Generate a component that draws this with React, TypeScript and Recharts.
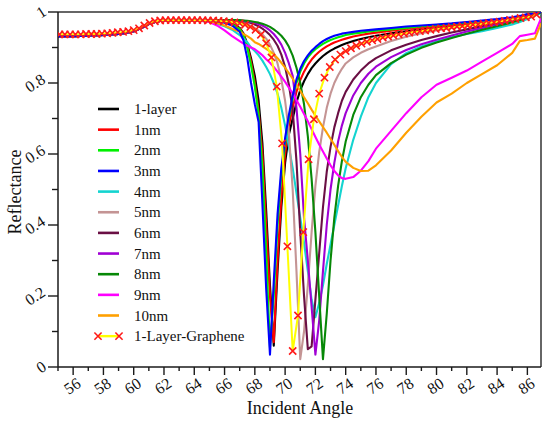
import { LineChart, Line, XAxis, YAxis, ReferenceLine } from "recharts";

// low-angle plateau, same for every film curve
const ANG_BASE = [55, 56, 57, 58, 59, 59.5, 60, 60.5, 61, 61.5, 62, 63, 64];
const R_BASE = [0.931, 0.932, 0.933, 0.935, 0.938, 0.941, 0.946, 0.955, 0.966, 0.973, 0.976, 0.977, 0.977];

// angles from 64.5 on (finer around the resonance)
const ANG_TAIL = [
  64.5, 65, 65.5, 66, 66.5, 67,
  67.25, 67.5, 67.75, 68, 68.25, 68.5, 68.75, 69,
  69.25, 69.5, 69.75, 70, 70.25, 70.5, 70.75, 71,
  71.25, 71.5, 71.75, 72, 72.25, 72.5, 72.75, 73,
  73.25, 73.5, 73.75, 74, 74.5, 75, 75.5, 76,
  77, 78, 79, 80, 81, 82, 83, 84, 85,
  85.5, 86, 86.5, 86.9,
];

const R_1LAYER = [
  0.977, 0.977, 0.976, 0.973, 0.967, 0.955,
  0.94, 0.91, 0.87, 0.82, 0.75, 0.63, 0.44, 0.23,
  0.06, 0.27, 0.45, 0.575, 0.655, 0.7, 0.745, 0.78,
  0.805, 0.825, 0.842, 0.855, 0.866, 0.876, 0.884, 0.891,
  0.897, 0.902, 0.907, 0.911, 0.918, 0.924, 0.929, 0.933,
  0.94, 0.946, 0.951, 0.956, 0.96, 0.965, 0.97, 0.975, 0.981,
  0.985, 0.991, 0.995, 0.999,
];
const R_1NM = [
  0.977, 0.976, 0.975, 0.972, 0.966, 0.953,
  0.937, 0.905, 0.86, 0.8, 0.72, 0.6, 0.4, 0.2,
  0.07, 0.3, 0.48, 0.6, 0.68, 0.73, 0.775, 0.808,
  0.832, 0.851, 0.866, 0.878, 0.888, 0.896, 0.903, 0.909,
  0.914, 0.918, 0.922, 0.925, 0.931, 0.935, 0.939, 0.942,
  0.947, 0.952, 0.956, 0.96, 0.964, 0.968, 0.973, 0.977, 0.983,
  0.987, 0.992, 0.996, 0.999,
];
const R_2NM = [
  0.977, 0.976, 0.975, 0.972, 0.965, 0.952,
  0.935, 0.9, 0.85, 0.79, 0.71, 0.56, 0.32, 0.055,
  0.2, 0.4, 0.54, 0.63, 0.7, 0.755, 0.8, 0.832,
  0.855, 0.872, 0.885, 0.895, 0.903, 0.91, 0.916, 0.921,
  0.925, 0.929, 0.932, 0.935, 0.939, 0.942, 0.945, 0.947,
  0.951, 0.955, 0.959, 0.963, 0.966, 0.97, 0.974, 0.978, 0.984,
  0.988, 0.993, 0.996, 0.999,
];
const R_3NM = [
  0.977, 0.976, 0.974, 0.97, 0.962, 0.945,
  0.92, 0.87, 0.8, 0.74, 0.69, 0.46, 0.22, 0.035,
  0.24, 0.43, 0.56, 0.645, 0.71, 0.765, 0.81, 0.84,
  0.862, 0.878, 0.891, 0.901, 0.91, 0.918, 0.924, 0.929,
  0.933, 0.936, 0.939, 0.941, 0.944, 0.947, 0.949, 0.951,
  0.955, 0.959, 0.962, 0.965, 0.968, 0.972, 0.976, 0.98, 0.985,
  0.989, 0.994, 0.997, 1.0,
];
const R_4NM = [
  0.975, 0.972, 0.967, 0.96, 0.95, 0.935,
  0.925, 0.915, 0.9, 0.89, 0.878, 0.863, 0.845, 0.825,
  0.8, 0.77, 0.73, 0.68, 0.62, 0.56, 0.49, 0.42,
  0.35, 0.27, 0.19, 0.14, 0.18, 0.23, 0.29, 0.345,
  0.4, 0.455, 0.51, 0.56, 0.64, 0.705, 0.76, 0.8,
  0.853, 0.884, 0.903, 0.917, 0.929, 0.938, 0.946, 0.955, 0.965,
  0.972, 0.98, 0.99, 0.997,
];
const R_5NM = [
  0.977, 0.977, 0.977, 0.976, 0.975, 0.972,
  0.97, 0.966, 0.961, 0.955, 0.947, 0.937, 0.925, 0.908,
  0.885, 0.855, 0.81, 0.75, 0.66, 0.5, 0.27, 0.022,
  0.1, 0.23, 0.38, 0.51, 0.605, 0.675, 0.73, 0.77,
  0.8, 0.822, 0.84, 0.855, 0.872, 0.885, 0.895, 0.903,
  0.918, 0.93, 0.94, 0.948, 0.955, 0.962, 0.969, 0.975, 0.981,
  0.986, 0.992, 0.996, 0.999,
];
const R_6NM = [
  0.977, 0.977, 0.977, 0.977, 0.976, 0.975,
  0.974, 0.972, 0.969, 0.965, 0.96, 0.953, 0.945, 0.935,
  0.922, 0.905, 0.88, 0.845, 0.795, 0.725, 0.58, 0.38,
  0.2, 0.05, 0.058, 0.19, 0.32, 0.45, 0.55, 0.62,
  0.675, 0.715, 0.75, 0.775, 0.81, 0.835, 0.855, 0.87,
  0.892, 0.908, 0.921, 0.932, 0.942, 0.951, 0.96, 0.968, 0.977,
  0.983, 0.99, 0.995, 0.999,
];
const R_7NM = [
  0.977, 0.977, 0.977, 0.977, 0.977, 0.976,
  0.975, 0.974, 0.972, 0.97, 0.966, 0.962, 0.956, 0.948,
  0.938, 0.925, 0.908, 0.885, 0.855, 0.82, 0.73, 0.6,
  0.42, 0.3, 0.17, 0.035, 0.13, 0.27, 0.4, 0.5,
  0.575, 0.635, 0.68, 0.715, 0.765, 0.8, 0.826, 0.846,
  0.873, 0.893, 0.909, 0.922, 0.934, 0.945, 0.955, 0.964, 0.974,
  0.98, 0.988, 0.994, 0.999,
];
const R_8NM = [
  0.977, 0.977, 0.977, 0.977, 0.977, 0.977,
  0.976, 0.975, 0.974, 0.972, 0.97, 0.967, 0.963, 0.958,
  0.951, 0.943, 0.933, 0.92, 0.902, 0.877, 0.843, 0.8,
  0.74, 0.65, 0.53, 0.38, 0.2, 0.022, 0.15, 0.3,
  0.42, 0.51, 0.58, 0.635, 0.71, 0.76, 0.795, 0.822,
  0.856, 0.88, 0.899, 0.914, 0.927, 0.939, 0.95, 0.96, 0.971,
  0.977, 0.986, 0.993, 0.999,
];
const R_9NM = [
  0.975, 0.972, 0.962, 0.948, 0.932, 0.918,
  0.911, 0.905, 0.9, 0.895, 0.887, 0.878, 0.867, 0.857,
  0.845, 0.832, 0.818, 0.803, 0.787, 0.77, 0.752, 0.733,
  0.713, 0.692, 0.67, 0.648, 0.627, 0.607, 0.587, 0.568,
  0.552, 0.54, 0.532, 0.53, 0.535, 0.553, 0.58, 0.615,
  0.665, 0.715, 0.76, 0.795, 0.815, 0.835, 0.86, 0.885, 0.91,
  0.932, 0.936, 0.94, 0.982,
];
const R_10NM = [
  0.976, 0.974, 0.969, 0.962, 0.953, 0.944,
  0.938, 0.932, 0.925, 0.915, 0.91, 0.903, 0.896, 0.889,
  0.881, 0.87, 0.857, 0.843, 0.828, 0.812, 0.795, 0.778,
  0.76, 0.743, 0.725, 0.708, 0.692, 0.676, 0.66, 0.643,
  0.626, 0.608, 0.592, 0.578, 0.561, 0.552, 0.553, 0.568,
  0.61, 0.66, 0.705, 0.745, 0.77, 0.8, 0.825, 0.85, 0.885,
  0.918, 0.921, 0.925, 0.968,
];

// graphene curve has its own (marked) sampling
const ANG_GR = [
  55.1, 55.45, 55.8, 56.15, 56.5, 56.85, 57.2, 57.55, 57.9, 58.25,
  58.6, 58.95, 59.3, 59.65, 60.0, 60.35, 60.7, 61.05, 61.4, 61.75,
  62.1, 62.45, 62.8, 63.15, 63.5, 63.85, 64.2, 64.55, 64.9, 65.25,
  65.6, 65.95, 66.3, 66.65, 67.0, 67.35, 67.7, 68.05, 68.4, 68.75,
  69.1, 69.45, 69.8, 70.15, 70.5, 70.85, 71.2, 71.55, 71.9, 72.25,
  72.6, 72.95, 73.3, 73.65, 74.0, 74.35, 74.7, 75.05, 75.4, 75.75,
  76.1, 76.45, 76.8, 77.15, 77.5, 77.85, 78.2, 78.55, 78.9, 79.25,
  79.6, 79.95, 80.3, 80.65, 81.0, 81.35, 81.7, 82.05, 82.4, 82.75,
  83.1, 83.45, 83.8, 84.15, 84.5, 84.85, 85.2, 85.55, 85.9, 86.25,
  86.6,
];
const R_GR = [
  0.937, 0.937, 0.937, 0.937, 0.937, 0.938, 0.938, 0.938, 0.939, 0.94,
  0.941, 0.943, 0.944, 0.946, 0.949, 0.954, 0.962, 0.969, 0.974, 0.976,
  0.977, 0.977, 0.977, 0.977, 0.977, 0.977, 0.977, 0.977, 0.976, 0.976,
  0.975, 0.974, 0.973, 0.971, 0.968, 0.964, 0.958, 0.95, 0.936, 0.912,
  0.872, 0.79, 0.63, 0.34, 0.045, 0.145, 0.38, 0.585, 0.698, 0.77,
  0.815, 0.845, 0.866, 0.88, 0.89, 0.898, 0.905, 0.911, 0.916, 0.92,
  0.924, 0.928, 0.931, 0.934, 0.937, 0.939, 0.942, 0.944, 0.946, 0.948,
  0.95, 0.952, 0.954, 0.955, 0.957, 0.959, 0.96, 0.962, 0.964, 0.965,
  0.967, 0.969, 0.971, 0.973, 0.975, 0.978, 0.98, 0.983, 0.985, 0.987,
  0.993,
];

const X_MAJOR = [56, 58, 60, 62, 64, 66, 68, 70, 72, 74, 76, 78, 80, 82, 84, 86];
const X_MINOR = [55, 57, 59, 61, 63, 65, 67, 69, 71, 73, 75, 77, 79, 81, 83, 85];
const Y_MAJOR = [0, 0.2, 0.4, 0.6, 0.8, 1];
const Y_LABELS = ["0", "0.2", "0.4", "0.6", "0.8", "1"];
const Y_MINOR = [0.1, 0.3, 0.5, 0.7, 0.9];

const SERIES = [
  { name: "1-layer", color: "#000000", values: R_1LAYER },
  { name: "1nm", color: "#ff0000", values: R_1NM },
  { name: "2nm", color: "#00f000", values: R_2NM },
  { name: "3nm", color: "#0000ff", values: R_3NM },
  { name: "4nm", color: "#14d4d0", values: R_4NM },
  { name: "5nm", color: "#c49494", values: R_5NM },
  { name: "6nm", color: "#6a0f44", values: R_6NM },
  { name: "7nm", color: "#a000d4", values: R_7NM },
  { name: "8nm", color: "#078807", values: R_8NM },
  { name: "9nm", color: "#ff00ff", values: R_9NM },
  { name: "10nm", color: "#ffa000", values: R_10NM },
];

// blue goes last so it shows along the plateau like in the figure
const DRAW_ORDER = ["1-layer", "1nm", "2nm", "4nm", "5nm", "6nm", "7nm", "8nm", "9nm", "10nm", "3nm"];

const FONT = "Liberation Serif, Times New Roman, serif";
const AXIS = "#1a1a1a";

const baseRows = ANG_BASE.map((a, i) => ({ a, r: R_BASE[i] }));
const seriesData = (values: number[]) =>
  baseRows.concat(ANG_TAIL.map((a, i) => ({ a, r: values[i] })));
const grData = ANG_GR.map((a, i) => ({ a, r: R_GR[i] }));

function XTick(props: any) {
  const { x, y, payload } = props;
  const v = payload.value;
  const major = X_MAJOR.includes(v);
  const lx = x - 1;
  const ly = y + 19;
  return (
    <g>
      <line x1={x} y1={y} x2={x} y2={y + (major ? 8 : 4)} stroke={AXIS} strokeWidth={1.4} />
      {major && (
        <text
          x={lx}
          y={ly}
          textAnchor="middle"
          dominantBaseline="central"
          transform={`rotate(-33, ${lx}, ${ly})`}
          style={{ fontFamily: FONT, fontSize: 16 }}
          fill="#111"
        >
          {v}
        </text>
      )}
    </g>
  );
}

function YTick(props: any) {
  const { x, y, payload } = props;
  const v = payload.value;
  const idx = Y_MAJOR.findIndex((m) => Math.abs(m - v) < 1e-6);
  const major = idx >= 0;
  const label = major ? Y_LABELS[idx] : "";
  const lx = label.length > 1 ? x - 23 : x - 17;
  return (
    <g>
      <line x1={x} y1={y} x2={x - (major ? 10 : 6)} y2={y} stroke={AXIS} strokeWidth={1.4} />
      {major && (
        <text
          x={lx}
          y={y}
          textAnchor="middle"
          dominantBaseline="central"
          transform={`rotate(-33, ${lx}, ${y})`}
          style={{ fontFamily: FONT, fontSize: 16 }}
          fill="#111"
        >
          {label}
        </text>
      )}
    </g>
  );
}

function Cross(props: any) {
  const { cx, cy, index } = props;
  if (cx == null || cy == null) return <g key={`gx-${index}`} />;
  const s = 3.6;
  return (
    <path
      key={`gx-${index}`}
      d={`M${cx - s},${cy - s}L${cx + s},${cy + s}M${cx - s},${cy + s}L${cx + s},${cy - s}`}
      stroke="#ff1a1a"
      strokeWidth={1.6}
      fill="none"
    />
  );
}

function LegendBox() {
  const x0 = 98;
  const x1 = 119;
  const top = 109;
  const step = 20.65;
  return (
    <g style={{ fontFamily: FONT, fontSize: 15 }} fill="#111">
      {SERIES.map((s, i) => {
        const y = top + i * step;
        return (
          <g key={s.name}>
            <line x1={x0} y1={y} x2={x1} y2={y} stroke={s.color} strokeWidth={2.6} />
            <text x={134} y={y} dominantBaseline="central">
              {s.name}
            </text>
          </g>
        );
      })}
      {(() => {
        const y = top + SERIES.length * step;
        const s = 3.6;
        return (
          <g>
            <line x1={x0} y1={y} x2={x1} y2={y} stroke="#ffff00" strokeWidth={2.4} />
            {[x0, x1].map((cx) => (
              <path
                key={cx}
                d={`M${cx - s},${y - s}L${cx + s},${y + s}M${cx - s},${y + s}L${cx + s},${y - s}`}
                stroke="#ff1a1a"
                strokeWidth={1.6}
                fill="none"
              />
            ))}
            <text x={134} y={y} dominantBaseline="central">
              1-Layer-Graphene
            </text>
          </g>
        );
      })()}
    </g>
  );
}

export default function App() {
  return (
    <div
      style={{
        position: "absolute",
        left: 0,
        top: 0,
        width: 550,
        height: 426,
        background: "#fff",
        fontFamily: FONT,
      }}
    >
      <LineChart width={550} height={426} margin={{ top: 12, right: 9, left: 0, bottom: 0 }}>
        <XAxis
          dataKey="a"
          type="number"
          domain={[55, 86.9]}
          allowDataOverflow
          ticks={[...X_MINOR, ...X_MAJOR].sort((p, q) => p - q)}
          interval={0}
          height={59}
          tickSize={0}
          tickMargin={0}
          tickLine={false}
          tick={(p: any) => <XTick {...p} />}
          axisLine={{ stroke: AXIS, strokeWidth: 1.5 }}
        />
        <YAxis
          type="number"
          domain={[0, 1]}
          allowDataOverflow
          ticks={[...Y_MAJOR, ...Y_MINOR].sort((p, q) => p - q)}
          interval={0}
          width={58}
          tickSize={0}
          tickMargin={0}
          tickLine={false}
          tick={(p: any) => <YTick {...p} />}
          axisLine={{ stroke: AXIS, strokeWidth: 1.5 }}
        />
        <ReferenceLine y={1} stroke="#333" strokeWidth={1.5} ifOverflow="extendDomain" />
        <ReferenceLine x={86.9} stroke="#333" strokeWidth={1.5} ifOverflow="extendDomain" />
        {DRAW_ORDER.map((name) => {
          const s = SERIES.find((d) => d.name === name)!;
          return (
            <Line
              key={s.name}
              data={seriesData(s.values)}
              dataKey="r"
              name={s.name}
              type="linear"
              stroke={s.color}
              strokeWidth={2.1}
              strokeLinejoin="round"
              dot={false}
              activeDot={false}
              isAnimationActive={false}
            />
          );
        })}
        <Line
          data={grData}
          dataKey="r"
          name="1-Layer-Graphene"
          type="linear"
          stroke="#ffff00"
          strokeWidth={2}
          dot={Cross}
          activeDot={false}
          isAnimationActive={false}
        />
      </LineChart>
      <svg
        width={550}
        height={426}
        style={{ position: "absolute", left: 0, top: 0, pointerEvents: "none" }}
      >
        <LegendBox />
        <text
          x={15}
          y={192}
          textAnchor="middle"
          dominantBaseline="central"
          transform="rotate(-90, 15, 192)"
          style={{ fontFamily: FONT, fontSize: 18 }}
          fill="#111"
        >
          Reflectance
        </text>
        <text x={300} y={414} textAnchor="middle" style={{ fontFamily: FONT, fontSize: 18 }} fill="#111">
          Incident Angle
        </text>
      </svg>
    </div>
  );
}
